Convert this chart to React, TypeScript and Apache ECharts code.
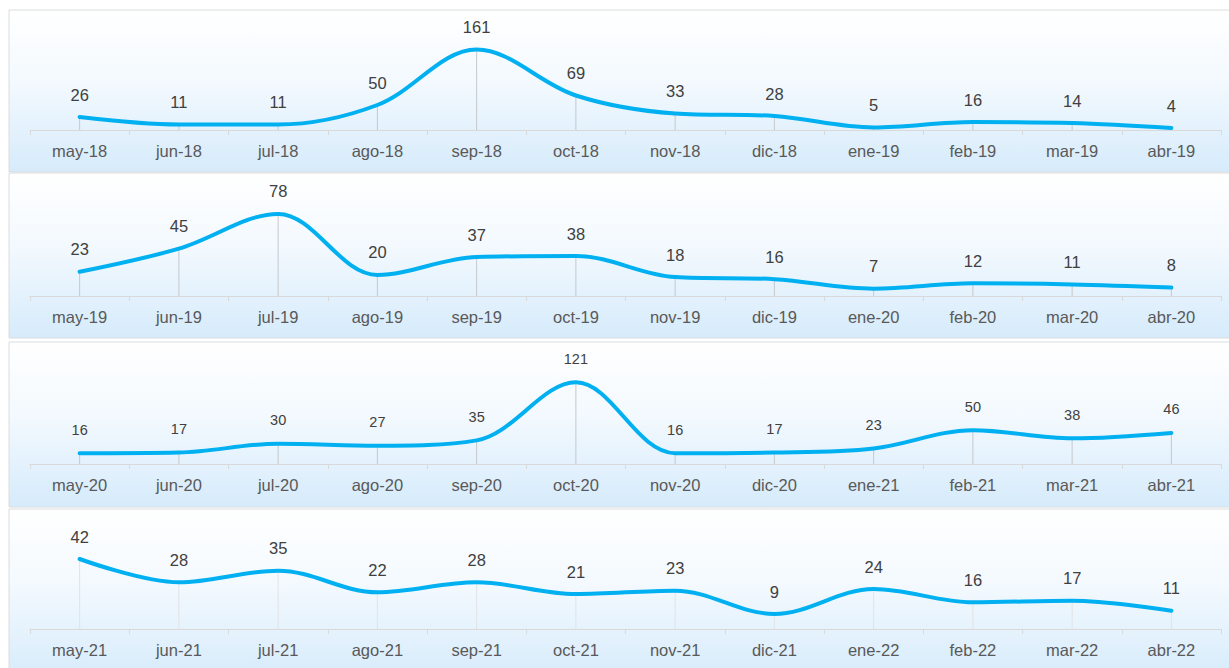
import React, { useEffect, useRef } from "react";
import * as echarts from "echarts";

const cats1 = ["may-18", "jun-18", "jul-18", "ago-18", "sep-18", "oct-18", "nov-18", "dic-18", "ene-19", "feb-19", "mar-19", "abr-19"];
const vals1 = [26, 11, 11, 50, 161, 69, 33, 28, 5, 16, 14, 4];
const cats2 = ["may-19", "jun-19", "jul-19", "ago-19", "sep-19", "oct-19", "nov-19", "dic-19", "ene-20", "feb-20", "mar-20", "abr-20"];
const vals2 = [23, 45, 78, 20, 37, 38, 18, 16, 7, 12, 11, 8];
const cats3 = ["may-20", "jun-20", "jul-20", "ago-20", "sep-20", "oct-20", "nov-20", "dic-20", "ene-21", "feb-21", "mar-21", "abr-21"];
const vals3 = [16, 17, 30, 27, 35, 121, 16, 17, 23, 50, 38, 46];
const cats4 = ["may-21", "jun-21", "jul-21", "ago-21", "sep-21", "oct-21", "nov-21", "dic-21", "ene-22", "feb-22", "mar-22", "abr-22"];
const vals4 = [42, 28, 35, 22, 28, 21, 23, 9, 24, 16, 17, 11];

const panels = [
  { cats: cats1, vals: vals1, max: 200, top: 30, bg: [9, 10, 1240, 162], drop: "#c4c8cc", labelSize: 16.5, dist: 13 },
  { cats: cats2, vals: vals2, max: 95, top: 196, bg: [9, 173, 1240, 165], drop: "#c4c8cc", labelSize: 16.5, dist: 13 },
  { cats: cats3, vals: vals3, max: 148, top: 364, bg: [9, 342, 1240, 165], drop: "#c4c8cc", labelSize: 14.5, dist: 15 },
  { cats: cats4, vals: vals4, max: 60, top: 529, bg: [9, 509, 1240, 170], drop: "#e0e3e6", labelSize: 16.5, dist: 13 },
];

export default function App() {
  const ref = useRef<HTMLDivElement>(null);
  useEffect(() => {
    document.body.style.margin = "0";
    const chart = echarts.init(ref.current!, null, { renderer: "svg" });
    const font = "'Liberation Sans', Arial, sans-serif";
    const grids: any[] = [];
    const xAxes: any[] = [];
    const yAxes: any[] = [];
    const series: any[] = [];
    const graphics: any[] = [];
    panels.forEach((p, i) => {
      graphics.push({
        type: "rect",
        shape: { x: p.bg[0], y: p.bg[1], width: p.bg[2], height: p.bg[3] },
        style: {
          fill: new echarts.graphic.LinearGradient(0, 0, 0, 1, [
            { offset: 0, color: "#ffffff" },
            { offset: 0.45, color: "#f3f9fe" },
            { offset: 1, color: "#d6ebfb" },
          ]),
          stroke: "#dadcde",
          lineWidth: 1,
        },
        z: -10,
      });
      grids.push({ left: 30, right: 8, top: p.top, height: 100 });
      xAxes.push({
        type: "category",
        gridIndex: i,
        data: p.cats,
        boundaryGap: true,
        axisLine: { show: true, lineStyle: { color: "#d9d9d9", width: 1 } },
        axisTick: { show: true, length: 5, lineStyle: { color: "#d9d9d9" } },
        axisLabel: { color: "#595959", fontSize: 16.5, fontFamily: font, margin: 12, interval: 0 },
        splitLine: { show: false },
      });
      yAxes.push({
        type: "value",
        gridIndex: i,
        min: 0,
        max: p.max,
        show: false,
        splitLine: { show: false },
      });
      series.push({
        type: "bar",
        xAxisIndex: i,
        yAxisIndex: i,
        data: p.vals,
        barWidth: 1,
        itemStyle: { color: p.drop },
        silent: true,
        z: 1,
      });
      series.push({
        type: "line",
        xAxisIndex: i,
        yAxisIndex: i,
        data: p.vals,
        smooth: 0.35,
        symbol: "circle",
        symbolSize: 2,
        showSymbol: true,
        itemStyle: { color: "#00b0f0" },
        lineStyle: { color: "#00b0f0", width: 4, cap: "round" },
        label: {
          show: true,
          position: "top",
          distance: p.dist,
          color: "#404040",
          fontSize: p.labelSize,
          fontFamily: font,
        },
        z: 3,
      });
    });
    chart.setOption({
      animation: false,
      backgroundColor: "#ffffff",
      grid: grids,
      xAxis: xAxes,
      yAxis: yAxes,
      series,
      graphic: graphics,
    });
    return () => chart.dispose();
  }, []);
  return <div ref={ref} style={{ width: 1229, height: 668 }} />;
}
